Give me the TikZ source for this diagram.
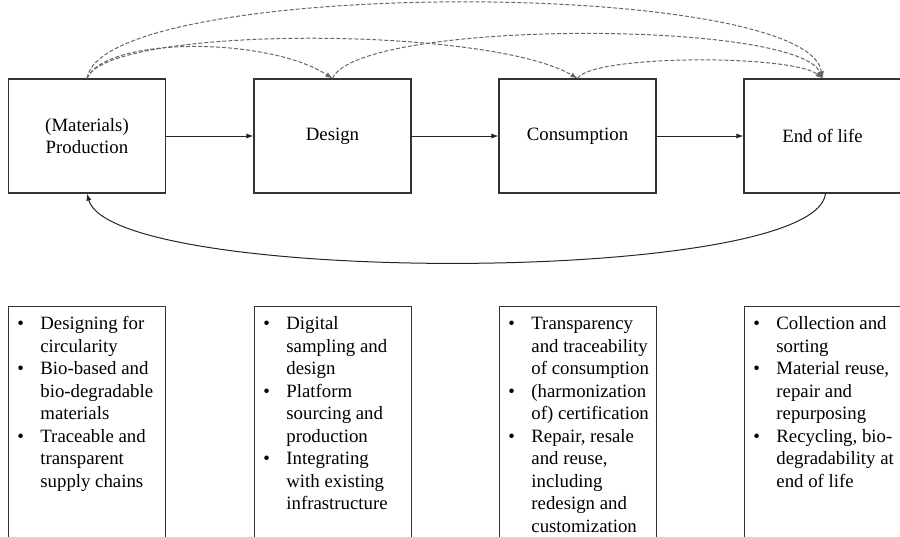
\documentclass[tikz,border=0pt]{standalone}
\usepackage{fontspec}
\setmainfont{Liberation Serif}
\usetikzlibrary{arrows.meta}

\begin{document}
\begin{tikzpicture}[
  x = 0.5pt, y = -0.5pt,
  every node/.style = {font=\fontsize{9.4}{11.25}\selectfont},
  stage/.style = {draw=black!80, line width=0.6pt, minimum width=78.5pt,
    minimum height=57pt, inner sep=0pt, align=center},
  frame/.style = {draw=black!80, line width=0.6pt, minimum width=78.5pt,
    minimum height=122pt, inner sep=0pt, anchor=north west},
  items/.style = {anchor=north west, inner sep=0pt},
  flow/.style = {-{Latex[length=3.5pt,width=2.6pt]}, black!85, line width=0.5pt},
  jump/.style = {flow, dash pattern=on 2pt off 1pt, black!60}
  ]
  \useasboundingbox (0,0) rectangle (900,536);
  % stages
  \node[stage] (prod) at (87,136) {(Materials)\\Production};
  \node[stage] (design) at (332.5,136) {Design};
  \node[stage] (cons) at (577.5,136) {Consumption};
  \node[stage] (eol) at (822.5,136) {End of life};
  \draw[flow] (prod) -- (design);
  \draw[flow] (design) -- (cons);
  \draw[flow] (cons) -- (eol);
  % dashed jumps over the top
  \draw[jump] (prod.north) .. controls +(18,-42) and +(-65,-42) .. (design.north);
  \draw[jump] (prod.north) .. controls +(20,-53) and +(-90,-53) .. (cons.north);
  \draw[jump] (prod.north) .. controls +(15,-101) and +(-15,-101) .. (eol.north);
  \draw[jump] (design.north) .. controls +(25,-59) and +(-25,-59) .. (eol.north);
  \draw[jump] (cons.north) .. controls +(15,-24) and +(-30,-24) .. (eol.north);
  % back loop
  \draw[flow] ([xshift=1.5pt]eol.south) .. controls +(-10,92) and +(25,92) .. (prod.south);
  % lists
  \node[frame] (pbox) at (8,306) {};
  \node[frame] (dbox) at (254,306) {};
  \node[frame] (cbox) at (499,306) {};
  \node[frame] (ebox) at (744,306) {};
  \node[items] (plist) at ([shift={(9,7.5)}]pbox.north west) {%
    \begin{tabular}{@{}p{11.5pt}@{}l@{}}
      \textbullet & Designing for\\
                  & circularity\\
      \textbullet & Bio-based and\\
                  & bio-degradable\\
                  & materials\\
      \textbullet & Traceable and\\
                  & transparent\\
                  & supply chains
    \end{tabular}};
  \node[items] (dlist) at ([shift={(9,7.5)}]dbox.north west) {%
    \begin{tabular}{@{}p{11.5pt}@{}l@{}}
      \textbullet & Digital\\
                  & sampling and\\
                  & design\\
      \textbullet & Platform\\
                  & sourcing and\\
                  & production\\
      \textbullet & Integrating\\
                  & with existing\\
                  & infrastructure
    \end{tabular}};
  \node[items] (clist) at ([shift={(9,7.5)}]cbox.north west) {%
    \begin{tabular}{@{}p{11.5pt}@{}l@{}}
      \textbullet & Transparency\\
                  & and traceability\\
                  & of consumption\\
      \textbullet & (harmonization\\
                  & of) certification\\
      \textbullet & Repair, resale\\
                  & and reuse,\\
                  & including\\
                  & redesign and\\
                  & customization
    \end{tabular}};
  \node[items] (elist) at ([shift={(9,7.5)}]ebox.north west) {%
    \begin{tabular}{@{}p{11.5pt}@{}l@{}}
      \textbullet & Collection and\\
                  & sorting\\
      \textbullet & Material reuse,\\
                  & repair and\\
                  & repurposing\\
      \textbullet & Recycling, bio-\\
                  & degradability at\\
                  & end of life
    \end{tabular}};
\end{tikzpicture}
\end{document}
